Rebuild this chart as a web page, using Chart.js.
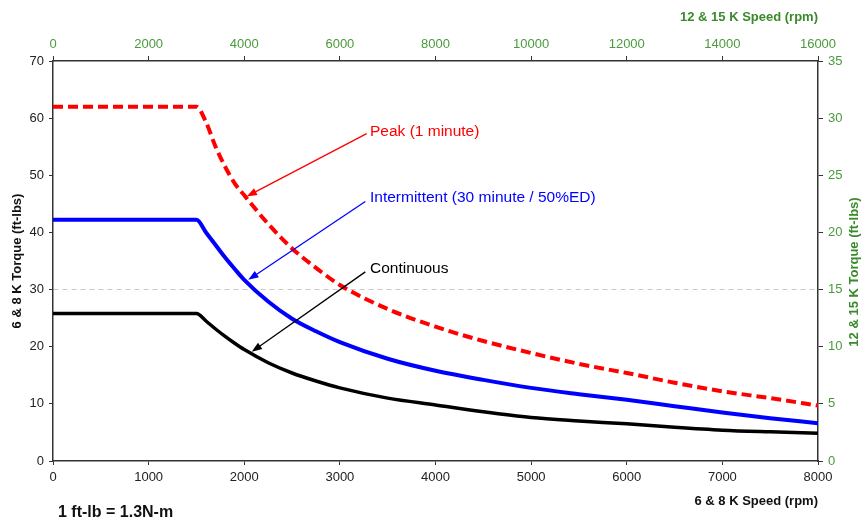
<!DOCTYPE html>
<html>
<head>
<meta charset="utf-8">
<script src="https://cdn.jsdelivr.net/npm/chart.js@4.4.1/dist/chart.umd.min.js"></script>
<style>
  body { margin: 0; background: #fff; }
  #wrap { width: 863px; height: 524px; position: relative; }
</style>
</head>
<body>
<div id="wrap"><canvas id="torque-chart"></canvas></div>
<script>
// speed in rpm (6 & 8 K motors), torque in ft-lbs
const speedRpm = [0, 1500, 1600, 1700, 1800, 1900, 2000, 2250, 2500, 2750, 3000, 3500, 4000, 4500, 5000, 5500, 6000, 6500, 7000, 7500, 8000];
const peakTorque = [62, 62, 59.3, 55, 51.5, 48.6, 46.5, 41.5, 37.2, 33.8, 30.8, 26.6, 23.5, 21, 18.9, 17, 15.4, 13.7, 12.2, 11, 9.7];
const intermittentTorque = [42.2, 42.2, 40, 37.8, 35.6, 33.6, 31.7, 27.9, 24.9, 22.7, 20.8, 17.9, 15.8, 14.2, 12.8, 11.7, 10.7, 9.6, 8.5, 7.5, 6.6];
const continuousTorque = [25.8, 25.8, 24.5, 23.1, 21.8, 20.6, 19.5, 17.2, 15.4, 14, 12.8, 11, 9.8, 8.6, 7.6, 7, 6.5, 5.9, 5.4, 5.1, 4.85];

const noteLabels = ['Peak (1 minute)', 'Intermittent (30 minute / 50%ED)', 'Continuous'];
const noteColors = ['#ff0000', '#0000ff', '#000000'];
// where the callout text sits and where its arrow points, in rpm / ft-lbs
const noteText = [[3315, 57.6], [3315, 46.0], [3315, 33.7]];
const noteFrom = [[3280, 57.3], [3266, 45.4], [3266, 33.1]];
const noteTo = [[2025, 46.3], [2042, 31.7], [2078, 19.1]];

const green = '#4a9a3c';
const greenTitle = '#3a8a2a';

function toPoints(ys) {
    return speedRpm.map((x, i) => ({ x: x, y: ys[i] }));
}

const calloutPlugin = {
    id: 'callouts',
    afterDatasetsDraw(chart) {
        const ctx = chart.ctx;
        const xs = chart.scales.x;
        const ys = chart.scales.y;
        ctx.save();
        noteLabels.forEach((label, i) => {
            const x1 = xs.getPixelForValue(noteFrom[i][0]);
            const y1 = ys.getPixelForValue(noteFrom[i][1]);
            const x2 = xs.getPixelForValue(noteTo[i][0]);
            const y2 = ys.getPixelForValue(noteTo[i][1]);
            const ang = Math.atan2(y2 - y1, x2 - x1);
            const head = 11;
            ctx.strokeStyle = noteColors[i];
            ctx.fillStyle = noteColors[i];
            ctx.lineWidth = 1.3;
            ctx.beginPath();
            ctx.moveTo(x1, y1);
            ctx.lineTo(x2 - Math.cos(ang) * head * 0.8, y2 - Math.sin(ang) * head * 0.8);
            ctx.stroke();
            ctx.beginPath();
            ctx.moveTo(x2, y2);
            ctx.lineTo(x2 - head * Math.cos(ang - 0.35), y2 - head * Math.sin(ang - 0.35));
            ctx.lineTo(x2 - head * Math.cos(ang + 0.35), y2 - head * Math.sin(ang + 0.35));
            ctx.closePath();
            ctx.fill();

            ctx.font = '15.5px "Liberation Sans", Arial, sans-serif';
            ctx.textAlign = 'left';
            ctx.textBaseline = 'middle';
            ctx.fillText(label, xs.getPixelForValue(noteText[i][0]), ys.getPixelForValue(noteText[i][1]));
        });

        // right axis title reads bottom to top
        ctx.font = 'bold 13px "Liberation Sans", Arial, sans-serif';
        ctx.fillStyle = greenTitle;
        ctx.translate(854, 272);
        ctx.rotate(-Math.PI / 2);
        ctx.textAlign = 'center';
        ctx.fillText('12 & 15 K Torque (ft-lbs)', 0, 0);
        ctx.restore();

        ctx.save();
        ctx.font = 'bold 16px "Liberation Sans", Arial, sans-serif';
        ctx.fillStyle = '#111';
        ctx.textAlign = 'left';
        ctx.textBaseline = 'middle';
        ctx.fillText('1 ft-lb = 1.3N-m', 58, 513);
        ctx.restore();
    }
};

const axisLine = { display: true, color: '#333', width: 1.5 };
const tickFont = { family: '"Liberation Sans", Arial, sans-serif', size: 13 };
const titleFont = { family: '"Liberation Sans", Arial, sans-serif', size: 13, weight: 'bold' };

const config = {
    type: 'scatter',
    data: {
        datasets: [
            {
                label: noteLabels[0],
                data: toPoints(peakTorque),
                showLine: true,
                borderColor: '#ff0000',
                borderWidth: 4,
                borderDash: [10, 5],
                pointRadius: 0,
                cubicInterpolationMode: 'monotone'
            },
            {
                label: noteLabels[1],
                data: toPoints(intermittentTorque),
                showLine: true,
                borderColor: '#0000ff',
                borderWidth: 4,
                pointRadius: 0,
                cubicInterpolationMode: 'monotone'
            },
            {
                label: noteLabels[2],
                data: toPoints(continuousTorque),
                showLine: true,
                borderColor: '#000000',
                borderWidth: 3.5,
                pointRadius: 0,
                cubicInterpolationMode: 'monotone'
            }
        ]
    },
    options: {
        responsive: true,
        maintainAspectRatio: false,
        animation: false,
        layout: { padding: 0 },
        plugins: {
            legend: { display: false },
            tooltip: { enabled: false }
        },
        scales: {
            x: {
                type: 'linear',
                position: 'bottom',
                min: 0,
                max: 8000,
                afterFit(scale) { scale.height = 63; },
                ticks: { stepSize: 1000, color: '#222', font: tickFont, padding: 5, maxRotation: 0, callback: v => String(v) },
                grid: { drawOnChartArea: false, tickLength: 4, tickColor: '#333' },
                border: axisLine,
                title: { display: true, text: '6 & 8 K Speed (rpm)', align: 'end', color: '#111', font: titleFont, padding: { top: 0, bottom: 15 } }
            },
            x2: {
                type: 'linear',
                position: 'top',
                min: 0,
                max: 16000,
                afterFit(scale) { scale.height = 61; },
                ticks: { stepSize: 2000, color: green, font: tickFont, padding: 4, maxRotation: 0, callback: v => String(v) },
                grid: { drawOnChartArea: false, tickLength: 5, tickColor: '#333' },
                border: axisLine,
                title: { display: true, text: '12 & 15 K Speed (rpm)', align: 'end', color: greenTitle, font: titleFont, padding: { top: 10, bottom: 0 } }
            },
            y: {
                type: 'linear',
                position: 'left',
                min: 0,
                max: 70,
                afterFit(scale) { scale.width = 53; },
                ticks: { stepSize: 10, color: '#222', font: tickFont, padding: 5 },
                grid: {
                    color: c => (c.tick && c.tick.value === 30 ? '#c8c8c8' : 'rgba(0,0,0,0)'),
                    tickLength: 4,
                    tickColor: '#333'
                },
                border: { display: true, color: '#333', width: 1.5, dash: [5, 4] },
                title: { display: true, text: '6 & 8 K Torque (ft-lbs)', color: '#111', font: titleFont, padding: { top: 10, bottom: 0 } }
            },
            y2: {
                type: 'linear',
                position: 'right',
                min: 0,
                max: 35,
                afterFit(scale) { scale.width = 45; },
                ticks: { stepSize: 5, color: green, font: tickFont, padding: 5 },
                grid: { drawOnChartArea: false, tickLength: 5, tickColor: '#333' },
                border: axisLine
            }
        }
    },
    plugins: [calloutPlugin]
};

const torqueCtx = document.getElementById('torque-chart').getContext('2d');
const torqueChart = new Chart(torqueCtx, config);
</script>
</body>
</html>
